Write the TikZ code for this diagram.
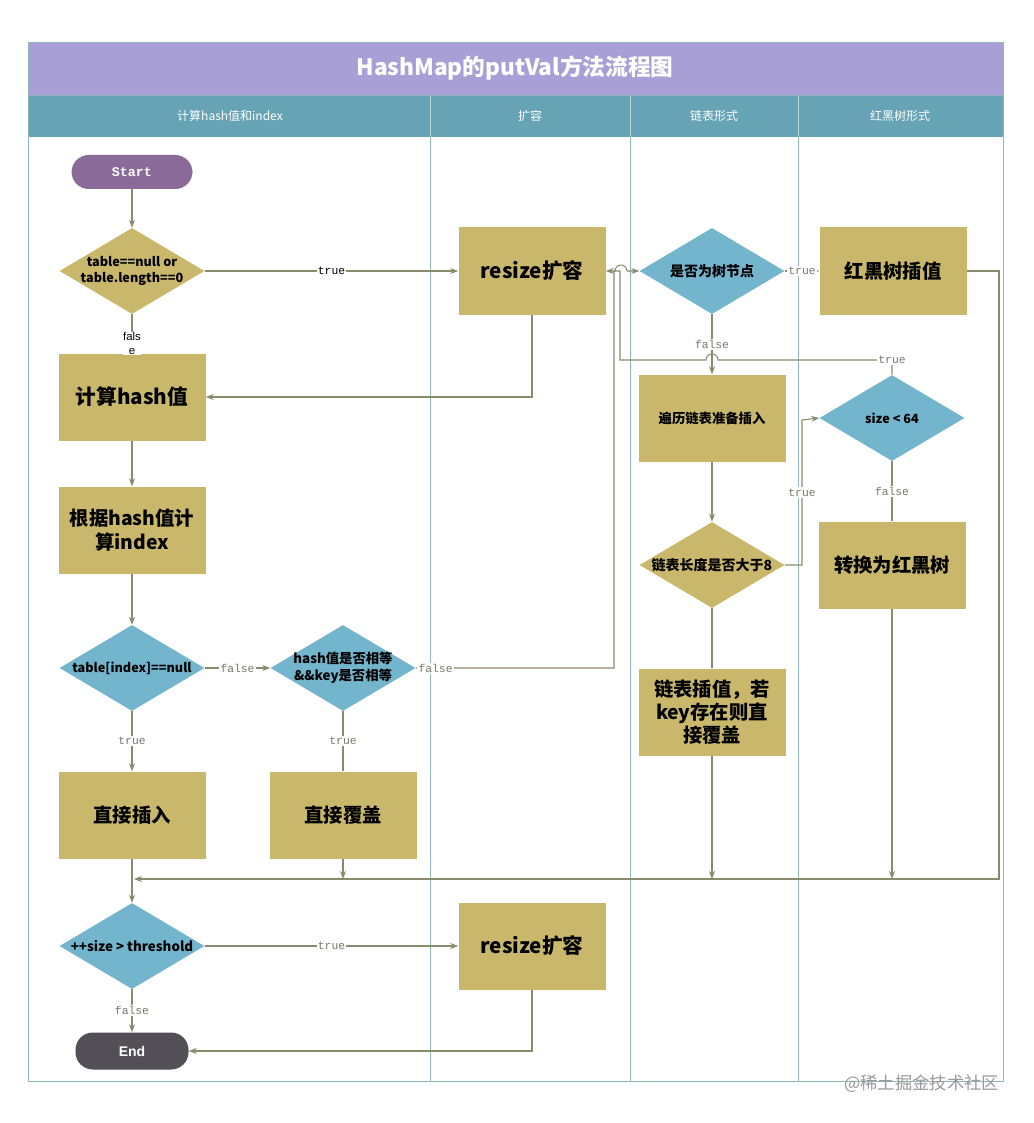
\documentclass[tikz,border=0pt]{standalone}
\usepackage{fontspec}
\setmainfont{Liberation Sans}
\newfontfamily\cjk{Noto Sans CJK SC}
\newfontfamily\monof{Liberation Mono}
\usetikzlibrary{shapes.geometric,arrows.meta}
\definecolor{goldc}{HTML}{C9B86B}
\definecolor{bluec}{HTML}{72B5CC}
\definecolor{startc}{HTML}{8A6A98}
\definecolor{endc}{HTML}{525056}
\definecolor{linec}{HTML}{8A8A6C}
\definecolor{laneline}{HTML}{8FB8BC}
\definecolor{titlec}{HTML}{A89FD6}
\definecolor{headc}{HTML}{66A3B4}
\definecolor{labc}{HTML}{77776A}
\begin{document}
\begin{tikzpicture}[x=0.75pt,y=-0.75pt,
  box/.style={rectangle, fill=goldc, minimum width=110.25pt, minimum height=65.25pt, inner sep=0pt, align=center, font=\cjk\bfseries\fontsize{14.5}{18}\selectfont},
  dia/.style={diamond, minimum width=108.75pt, minimum height=64.5pt, inner sep=0pt},
  diatext/.style={align=center, font=\cjk\bfseries\fontsize{9.5}{12.5}\selectfont, inner sep=0pt},
  term/.style={rounded corners=13pt, text=white, inner sep=0pt},
  conn/.style={draw=linec, line width=0.8pt},
  arr/.style={conn, -{Stealth[length=6pt,width=4.5pt]}},
  lab/.style={fill=white, inner sep=1pt, text=labc, font=\monof\fontsize{8.5}{9}\selectfont},
  labk/.style={fill=white, inner sep=1pt, text=black, font=\monof\fontsize{8.5}{9}\selectfont},
  headtext/.style={text=white, font=\cjk\fontsize{9}{10}\selectfont}
]
\useasboundingbox (0,0) rectangle (1033,1123);
\fill[white] (0,0) rectangle (1033,1123);
% bands
\fill[titlec] (28,42) rectangle (1003,95);
\fill[headc] (28,95) rectangle (1003,137);
\node[text=white, font=\cjk\bfseries\fontsize{17}{20}\selectfont] (title) at (515,68) {HashMap的putVal方法流程图};
\node[headtext] (h1) at (230,116) {计算hash值和index};
\node[headtext] (h2) at (530,116) {扩容};
\node[headtext] (h3) at (714,116) {链表形式};
\node[headtext] (h4) at (900,116) {红黑树形式};
\foreach \xx in {430,630,798} {
  \draw[laneline!60!white, line width=0.6pt] (\xx,95) -- (\xx,137);
  \draw[laneline, line width=0.6pt] (\xx,137) -- (\xx,1081);
}
\draw[laneline, line width=0.7pt] (28,42) rectangle (1003,1081);
\draw[laneline, line width=0.6pt] (28,95) -- (1003,95);

% nodes
\node[term, fill=startc, minimum width=90.75pt, minimum height=25.5pt, font=\monof\bfseries\fontsize{10}{11}\selectfont] (start) at (132,172) {Start};
\node[dia, fill=goldc] (d1) at (132,271) {};
\node[diatext] (d1t) at (d1) {table==null or\\table.length==0};
\node[box, font=\cjk\bfseries\fontsize{15.5}{18}\selectfont] (resize1) at (532,271) {resize扩容};
\node[dia, fill=bluec] (dtree) at (712,271) {};
\node[diatext, font=\cjk\bfseries\fontsize{10.5}{12}\selectfont] (dtreet) at (dtree) {是否为树节点};
\node[box] (rb) at (893,271) {红黑树插值};
\node[box, font=\cjk\bfseries\fontsize{15.5}{18}\selectfont] (hashbox) at (132,397) {计算hash值};
\node[box, font=\cjk\bfseries\fontsize{10}{12}\selectfont] (trav) at (712,418) {遍历链表准备插入};
\node[dia, fill=bluec] (s64) at (892,418) {};
\node[diatext, font=\cjk\bfseries\fontsize{9.5}{12}\selectfont] (s64t) at (s64) {size < 64};
\node[box] (idx) at (132,530) {根据hash值计\\算index};
\node[dia, fill=goldc] (len8) at (712,565) {};
\node[diatext, font=\cjk\bfseries\fontsize{10.5}{12}\selectfont] (len8t) at (len8) {链表长度是否大于8};
\node[box] (conv) at (892,565) {转换为红黑树};
\node[dia, fill=bluec] (dnull) at (132,668) {};
\node[diatext] (dnullt) at (dnull) {table[index]==null};
\node[dia, fill=bluec] (dhash) at (343,668) {};
\node[diatext, font=\cjk\bfseries\fontsize{10}{13}\selectfont] (dhasht) at (dhash) {hash值是否相等\\\&\&key是否相等};
\node[box, font=\cjk\bfseries\fontsize{14.5}{17.5}\selectfont] (linkins) at (712,712) {链表插值，若\\key存在则直\\接覆盖};
\node[box] (ins) at (132,815) {直接插入};
\node[box] (cover) at (343,815) {直接覆盖};
\node[dia, fill=bluec] (dsize) at (132,946) {};
\node[diatext, font=\cjk\bfseries\fontsize{10}{12}\selectfont] (dsizet) at (dsize) {++size > threshold};
\node[box, font=\cjk\bfseries\fontsize{15.5}{18}\selectfont] (resize2) at (532,946) {resize扩容};
\node[term, fill=endc, minimum width=84.75pt, minimum height=27.75pt, font=\bfseries\fontsize{10.5}{11}\selectfont] (end) at (132,1051) {End};

% coordinates
\coordinate (hf) at (614,668);
\coordinate (hu) at (614,271);
\coordinate (sc) at (892,360);
\coordinate (sl) at (620,360);
\coordinate (su) at (620,271);
\coordinate (lr) at (802,565);
\coordinate (lu) at (802,420);
\coordinate (rr) at (999,271);
\coordinate (rd) at (999,879);
\coordinate (jl) at (134,879);
\coordinate (jm) at (343,879);
\coordinate (jc) at (712,879);
\coordinate (jr) at (892,879);

% connectors
\draw[arr] (start) -- (d1);
\draw[arr] (d1) -- node[labk]{true} (resize1);
\draw[arr] (d1) -- node[pos=0.75, fill=white, inner sep=0.5pt, align=center, font=\fontsize{8.5}{10}\selectfont]{fals\\e} (hashbox);
\draw[arr] (resize1.south) |- (hashbox.east);
\draw[arr] (hashbox) -- (idx);
\draw[arr] (idx) -- (dnull);
\draw[arr] (dnull) -- node[lab]{false} (dhash);
\draw[arr] (dnull) -- node[lab]{true} (ins);
\draw[conn] (dhash) -- node[lab]{true} (cover);
\draw[arr] (dhash.east) -- node[lab, pos=0.1]{false} (hf) -- (hu) -- (615,271) arc[start angle=180, end angle=0, radius=4.5pt] -- (dtree.west);
\draw[arr] (s64.north) -- (sc) node[lab]{true} -- (718,360) arc[start angle=0, end angle=180, radius=4.5pt] -- (sl) -- (su) -- (resize1.east);
\draw[arr] (dtree) -- node[lab]{true} (rb);
\draw[arr] (dtree) -- node[lab]{false} (trav);
\draw[arr] (trav) -- (len8);
\draw[arr] (len8.east) -- (lr) -- node[lab]{true} (lu) -- (s64.west);
\draw[conn] (s64) -- node[lab]{false} (conv);
\draw[conn] (len8) -- (linkins);
\draw[arr] (linkins.south) -- (jc);
\draw[arr] (conv.south) -- (jr);
\draw[arr] (rb.east) -- (rr) -- (rd) -- (jl);
\draw[arr] (cover.south) -- (jm);
\draw[arr] (ins.south) -- (dsize.north);
\draw[arr] (dsize) -- node[lab]{true} (resize2);
\draw[arr] (dsize) -- node[lab]{false} (end);
\draw[arr] (resize2.south) |- (end.east);

% watermark
\node[text=black!40, font=\cjk\fontsize{13}{15}\selectfont, anchor=east] (wm) at (1004,1084) {@稀土掘金技术社区};
\end{tikzpicture}
\end{document}
